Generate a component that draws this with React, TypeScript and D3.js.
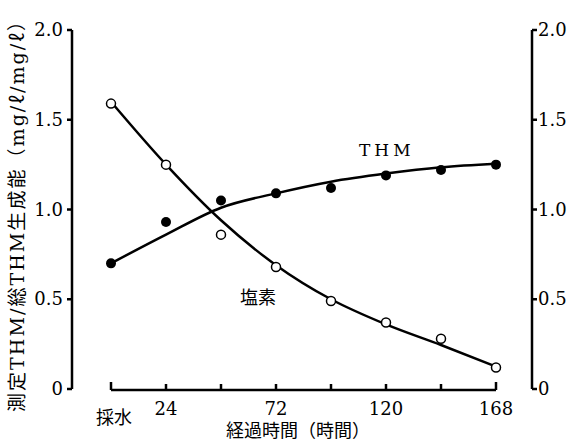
import React, { useEffect, useRef } from 'react';
import * as d3 from 'd3';

// elapsed hours
const hours = [0, 24, 48, 72, 96, 120, 144, 168];
// measured values (mg/l)
const thmValues = [0.70, 0.93, 1.05, 1.09, 1.12, 1.19, 1.22, 1.25];
const chlorineValues = [1.59, 1.25, 0.86, 0.68, 0.49, 0.37, 0.28, 0.12];
// fitted curves drawn through the points
const thmFit = [0.70, 0.86, 1.01, 1.09, 1.155, 1.20, 1.235, 1.255];
const chlorineFit = [1.60, 1.25, 0.94, 0.69, 0.50, 0.36, 0.245, 0.125];

const yTicks = [0, 0.5, 1.0, 1.5, 2.0];
const xTickLabels = [
  { h: 0, label: '採水' },
  { h: 24, label: '24' },
  { h: 72, label: '72' },
  { h: 120, label: '120' },
  { h: 168, label: '168' },
];

const serif = '"DejaVu Serif", "Noto Sans CJK JP", serif';

const App = () => {
  const svgRef = useRef<SVGSVGElement>(null);

  useEffect(() => {
    const svg = d3.select(svgRef.current);
    svg.selectAll('*').remove();

    const x = d3.scaleLinear().domain([0, 168]).range([111, 496]);
    const y = d3.scaleLinear().domain([0, 2]).range([389, 30]);
    const leftX = 72;
    const rightX = 532;
    const baseY = 390;

    const fmt = (v: number) => (v === 0 ? '0' : v.toFixed(1));

    // left axis
    svg.append('line')
      .attr('x1', leftX).attr('x2', leftX)
      .attr('y1', y(2)).attr('y2', y(0))
      .attr('stroke', '#000').attr('stroke-width', 2.5);
    svg.selectAll('.lt').data(yTicks).enter().append('line')
      .attr('x1', leftX - 5).attr('x2', leftX)
      .attr('y1', (d) => y(d)).attr('y2', (d) => y(d))
      .attr('stroke', '#000').attr('stroke-width', 2.5);
    svg.selectAll('.ll').data(yTicks).enter().append('text')
      .attr('x', leftX - 9).attr('y', (d) => y(d) + 6)
      .attr('text-anchor', 'end')
      .attr('font-family', serif).attr('font-size', 18)
      .text(fmt);

    // right axis
    svg.append('line')
      .attr('x1', rightX).attr('x2', rightX)
      .attr('y1', y(2)).attr('y2', y(0))
      .attr('stroke', '#000').attr('stroke-width', 2.5);
    svg.selectAll('.rt').data(yTicks).enter().append('line')
      .attr('x1', rightX).attr('x2', rightX + 5)
      .attr('y1', (d) => y(d)).attr('y2', (d) => y(d))
      .attr('stroke', '#000').attr('stroke-width', 2.5);
    svg.selectAll('.rl').data(yTicks).enter().append('text')
      .attr('x', rightX + 6).attr('y', (d) => y(d) + 6)
      .attr('text-anchor', 'start')
      .attr('font-family', serif).attr('font-size', 18)
      .text(fmt);

    // x axis
    svg.append('line')
      .attr('x1', x(0)).attr('x2', x(168))
      .attr('y1', baseY).attr('y2', baseY)
      .attr('stroke', '#000').attr('stroke-width', 2.5);
    svg.selectAll('.xt').data(hours).enter().append('line')
      .attr('x1', (d) => x(d)).attr('x2', (d) => x(d))
      .attr('y1', (d) => (d === 0 || d === 168 ? baseY - 8 : baseY - 6)).attr('y2', baseY)
      .attr('stroke', '#000').attr('stroke-width', 2.5);
    svg.selectAll('.xl').data(xTickLabels).enter().append('text')
      .attr('x', (d) => x(d.h) + (d.h === 0 ? 3 : 0))
      .attr('y', (d) => (d.h === 0 ? 424 : 415))
      .attr('text-anchor', 'middle')
      .attr('font-family', serif).attr('font-size', 18)
      .text((d) => d.label);

    svg.append('text')
      .attr('x', 298).attr('y', 437)
      .attr('text-anchor', 'middle')
      .attr('font-family', serif).attr('font-size', 18)
      .text('経過時間（時間）');

    // y label (rotated)
    svg.append('text')
      .attr('transform', 'translate(24,212) rotate(-90)')
      .attr('text-anchor', 'middle')
      .attr('font-family', serif).attr('font-size', 19)
      .attr('textLength', 400).attr('lengthAdjust', 'spacing')
      .text('測定THM/総THM生成能（mg/ℓ/mg/ℓ）');

    // fitted curves
    const line = d3.line<number>()
      .x((_, i) => x(hours[i]))
      .y((d) => y(d))
      .curve(d3.curveMonotoneX);

    svg.append('path').attr('d', line(thmFit))
      .attr('fill', 'none').attr('stroke', '#000').attr('stroke-width', 2.5);
    svg.append('path').attr('d', line(chlorineFit))
      .attr('fill', 'none').attr('stroke', '#000').attr('stroke-width', 2.5);

    // points
    svg.selectAll('.cp').data(chlorineValues).enter().append('circle')
      .attr('cx', (_, i) => x(hours[i])).attr('cy', (d) => y(d))
      .attr('r', 4.5)
      .attr('fill', '#fff').attr('stroke', '#000').attr('stroke-width', 1.5);
    svg.selectAll('.tp').data(thmValues).enter().append('circle')
      .attr('cx', (_, i) => x(hours[i])).attr('cy', (d) => y(d))
      .attr('r', 5)
      .attr('fill', '#000');

    // series labels
    svg.append('text')
      .attr('x', 359).attr('y', 156)
      .attr('font-family', serif).attr('font-size', 17)
      .attr('letter-spacing', 4)
      .text('THM');
    svg.append('text')
      .attr('x', 258).attr('y', 304)
      .attr('text-anchor', 'middle')
      .attr('font-family', serif).attr('font-size', 18)
      .text('塩素');
  }, []);

  return (
    <svg
      ref={svgRef}
      width={571}
      height={440}
      style={{ position: 'absolute', left: 0, top: 0, background: '#fff' }}
    />
  );
};

export default App;
